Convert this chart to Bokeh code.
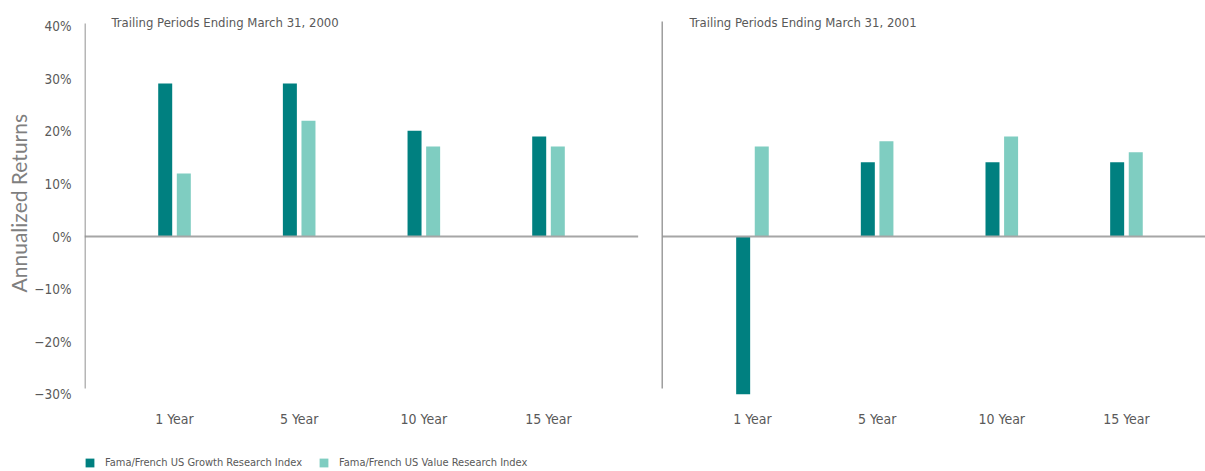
from bokeh.plotting import figure
from bokeh.layouts import column
from bokeh.models import Range1d, FixedTicker, Legend, LegendItem, Label, ColumnDataSource
from bokeh.embed import file_html
from bokeh.resources import INLINE

# ---- data ----
periods = ["1 Year", "5 Year", "10 Year", "15 Year"]
panel_titles = ["Trailing Periods Ending March 31, 2000",
                "Trailing Periods Ending March 31, 2001"]
series_names = ["Fama/French US Growth Research Index",
                "Fama/French US Value Research Index"]
growth_2000 = [29.1, 29.1, 20.1, 19.0]
value_2000 = [12.0, 22.0, 17.1, 17.1]
growth_2001 = [-30.0, 14.1, 14.1, 14.1]
value_2001 = [17.1, 18.1, 19.0, 16.0]
y_ticks = [-30, -20, -10, 0, 10, 20, 30, 40]
y_tick_labels = ["\u221230%", "\u221220%", "\u221210%", "0%", "10%", "20%", "30%", "40%"]

# ---- styling / layout ----
GROWTH = "#008080"
VALUE = "#7fcdc1"
TXT = "#595959"
NARROW = "'DejaVu Sans Condensed', 'Roboto Condensed', Roboto"
panel_offset = 4.636
x_start, x_end = -0.722, 8.27
bar_w = 0.1123
off = 0.0746

p = figure(frame_width=1121, frame_height=400,
           x_range=Range1d(x_start, x_end), y_range=Range1d(-31.18, 44.87),
           output_backend="svg", toolbar_location=None,
           min_border_left=84, min_border_right=0, min_border_top=0,
           min_border_bottom=28)
p.outline_line_color = None
p.grid.grid_line_color = None
p.background_fill_color = "white"
p.border_fill_color = "white"

cat_x = [i for i in range(len(periods))] + [panel_offset + i for i in range(len(periods))]
src_g = ColumnDataSource(dict(x=[c - off for c in cat_x], top=growth_2000 + growth_2001))
src_v = ColumnDataSource(dict(x=[c + off for c in cat_x], top=value_2000 + value_2001))
p.vbar(x="x", top="top", bottom=0, width=bar_w, source=src_g,
       fill_color=GROWTH, line_color=None)
p.vbar(x="x", top="top", bottom=0, width=bar_w, source=src_v,
       fill_color=VALUE, line_color=None)

# zero lines and panel axis lines
p.segment(x0=[x_start, panel_offset - 0.724], y0=[0, 0], x1=[3.719, x_end], y1=[0, 0],
          line_color="#a6a6a6", line_width=2)
p.segment(x0=[x_start + 0.004, panel_offset - 0.724], y0=[-28.9, -28.9],
          x1=[x_start + 0.004, panel_offset - 0.724], y1=[40.5, 40.9],
          line_color="#8f8f8f", line_width=1.3)

# titles
for i, t in enumerate(panel_titles):
    p.add_layout(Label(x=-0.505 + i * panel_offset, y=40.7, text=t,
                       text_font=NARROW, text_font_size="13px", text_color=TXT,
                       text_baseline="middle", text_align="left"))

# y axis
p.yaxis.ticker = FixedTicker(ticks=y_ticks)
p.yaxis.major_label_overrides = {t: l for t, l in zip(y_ticks, y_tick_labels)}
p.yaxis.axis_line_color = None
p.yaxis.major_tick_line_color = None
p.yaxis.minor_tick_line_color = None
p.yaxis.major_tick_out = 0
p.yaxis.major_tick_in = 0
p.yaxis.minor_tick_out = 0
p.yaxis.major_label_standoff = 13
p.yaxis.major_label_text_font = NARROW
p.yaxis.major_label_text_font_size = "13.5px"
p.yaxis.major_label_text_color = TXT
p.yaxis.axis_label = "Annualized  Returns"
p.yaxis.axis_label_text_font = "Lato"
p.yaxis.axis_label_text_font_style = "normal"
p.yaxis.axis_label_text_font_size = "21px"
p.yaxis.axis_label_text_color = "#7f7f7f"
p.yaxis.axis_label_standoff = 0

# x axis
p.xaxis.ticker = FixedTicker(ticks=cat_x)
p.xaxis.major_label_overrides = {c: periods[i % 4] for i, c in enumerate(cat_x)}
p.xaxis.axis_line_color = None
p.xaxis.major_tick_line_color = None
p.xaxis.minor_tick_line_color = None
p.xaxis.major_tick_out = 0
p.xaxis.major_tick_in = 0
p.xaxis.minor_tick_out = 0
p.xaxis.major_label_standoff = 10
p.xaxis.major_label_text_font = NARROW
p.xaxis.major_label_text_font_size = "14px"
p.xaxis.major_label_text_color = TXT

# ---- legend strip below the chart (same series, drawn out of view) ----
leg = figure(width=1205, height=43, x_range=Range1d(x_start, x_end),
             y_range=Range1d(100, 101),
             x_axis_type=None, y_axis_type=None, output_backend="svg",
             toolbar_location=None, min_border_left=84, min_border_right=0,
             min_border_top=0, min_border_bottom=0)
leg.outline_line_color = None
leg.grid.visible = False
leg.border_fill_color = "white"
lg = leg.vbar(x="x", top="top", bottom=0, width=bar_w, source=src_g,
              fill_color=GROWTH, line_color=None)
lv = leg.vbar(x="x", top="top", bottom=0, width=bar_w, source=src_v,
              fill_color=VALUE, line_color=None)
legend = Legend(items=[LegendItem(label=series_names[0], renderers=[lg]),
                       LegendItem(label=series_names[1], renderers=[lv])],
                orientation="horizontal", location=(0, 3),
                glyph_width=11, glyph_height=11, label_height=11,
                label_standoff=10, spacing=16, padding=0, margin=0,
                border_line_color=None, background_fill_alpha=0,
                label_text_font=NARROW, label_text_font_size="11px",
                label_text_color=TXT, label_text_baseline="middle")
leg.add_layout(legend, "center")

layout = column(p, leg, spacing=0)
open("out.html", "w").write(file_html(layout, INLINE))
